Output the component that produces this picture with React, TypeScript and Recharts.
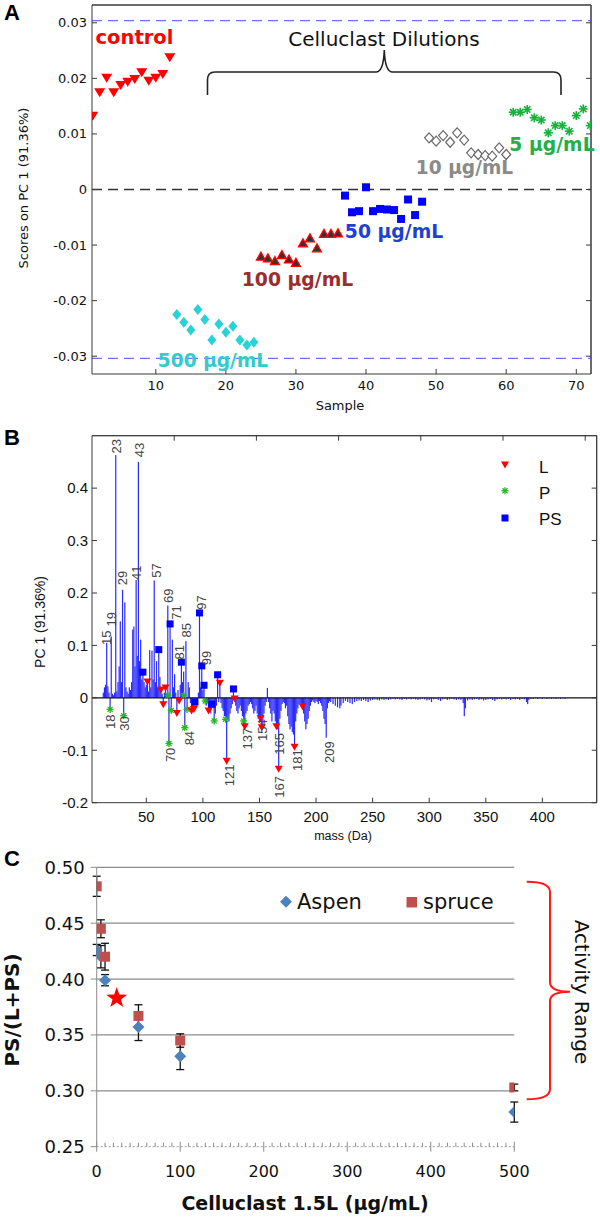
import React from 'react';
import {
  ScatterChart, ComposedChart, Scatter, Bar, XAxis, YAxis, ReferenceLine, ErrorBar, CartesianGrid,
} from 'recharts';

const SANS = '"DejaVu Sans", sans-serif';
const ARIAL = '"Liberation Sans", Arial, sans-serif';

// ---------------- Panel A: PCA scores ----------------
const aXTicks = [10, 20, 30, 40, 50, 60, 70];
const aYTicks = [-0.03, -0.02, -0.01, 0, 0.01, 0.02, 0.03];
const aXDomain = [0.9, 72.1];
const aYDomain = [-0.0332, 0.0332];
const controlSamples = [1, 2, 3, 4, 5, 6, 7, 8, 9, 10, 11, 12];
const controlScores = [0.0132, 0.0174, 0.0200, 0.0174, 0.0187, 0.0193, 0.0198, 0.0210, 0.0195, 0.0200, 0.0207, 0.0237];
const d500Samples = [13, 14, 15, 16, 17, 18, 19, 20, 21, 22, 23, 24];
const d500Scores = [-0.0225, -0.0239, -0.0253, -0.0216, -0.0234, -0.0271, -0.0242, -0.0257, -0.0246, -0.0271, -0.0280, -0.0275];
const d100Samples = [25, 26, 27, 28, 29, 30, 31, 32, 33, 34, 35, 36];
const d100Scores = [-0.0120, -0.0123, -0.0128, -0.0117, -0.0125, -0.0131, -0.0096, -0.0087, -0.0105, -0.0079, -0.0079, -0.0078];
const d50Samples = [37, 38, 39, 40, 41, 42, 43, 44, 45, 46, 47, 48];
const d50Scores = [-0.0011, -0.0041, -0.0039, 0.0004, -0.0039, -0.0035, -0.0036, -0.0037, -0.0053, -0.0018, -0.0046, -0.0022];
const d10Samples = [49, 50, 51, 52, 53, 54, 55, 56, 57, 58, 59, 60];
const d10Scores = [0.0093, 0.0087, 0.0097, 0.0085, 0.0102, 0.0089, 0.0066, 0.0063, 0.0061, 0.0060, 0.0075, 0.0063];
const d5Samples = [61, 62, 63, 64, 65, 66, 67, 68, 69, 70, 71, 72];
const d5Scores = [0.0139, 0.0139, 0.0144, 0.0129, 0.0125, 0.0102, 0.0115, 0.0115, 0.0105, 0.0133, 0.0145, 0.0115];
const aLimits = [-0.0304, 0.0304];

// ---------------- Panel B: PC1 loadings ----------------
const bXTicks = [50, 100, 150, 200, 250, 300, 350, 400];
const bYTicks = [-0.2, -0.1, 0, 0.1, 0.2, 0.3, 0.4];
const bXDomain = [2, 448];
const bYDomain = [-0.2, 0.5];
const stems: [number, number][] = [
  [12, 0.010], [13, 0.020], [14, 0.025], [15, 0.105], [16, 0.022], [17, 0.010], [18, -0.022], [19, 0.117],
  [20, 0.008], [21, 0.005], [22, 0.010], [23, 0.463], [24, 0.012], [25, 0.030], [26, 0.060], [27, 0.146],
  [28, 0.030], [29, 0.206], [30, -0.034], [31, 0.182], [32, 0.020], [33, 0.012], [34, 0.008], [35, 0.020],
  [36, 0.015], [37, 0.030], [38, 0.130], [39, 0.136], [40, 0.060], [41, 0.225], [42, 0.080], [43, 0.450],
  [44, 0.070], [45, 0.111], [46, 0.035], [47, 0.049], [48, 0.030], [49, 0.020], [50, 0.025], [51, 0.030],
  [52, 0.012], [53, 0.091], [54, 0.020], [55, 0.090], [56, 0.035], [57, 0.224], [58, 0.030], [59, 0.070],
  [60, 0.020], [61, 0.092], [62, 0.040], [63, 0.015], [64, 0.008], [65, -0.013], [66, 0.010], [67, 0.019],
  [68, 0.008], [69, 0.176], [70, -0.087], [71, 0.141], [72, -0.024], [73, 0.111], [74, 0.020], [75, 0.045],
  [76, 0.010], [77, -0.030], [78, 0.015], [79, -0.006], [80, 0.025], [81, 0.068], [82, 0.030], [83, 0.050],
  [84, -0.057], [85, 0.108], [86, -0.022], [87, 0.030], [88, 0.020], [89, -0.010], [90, -0.025], [91, -0.015],
  [92, -0.022], [93, -0.008], [94, -0.018], [95, -0.012], [96, 0.010], [97, 0.162], [98, 0.020], [99, 0.061],
  [100, 0.015], [101, 0.024], [102, -0.006], [103, -0.015], [104, -0.010], [105, -0.025], [106, -0.020], [107, -0.030],
  [108, -0.012], [109, -0.020], [110, -0.044], [111, -0.030], [112, -0.015], [113, 0.044], [114, -0.008], [115, 0.028],
  [116, -0.010], [117, -0.020], [118, -0.025], [119, -0.035], [120, -0.041], [121, -0.121], [122, -0.040], [123, -0.045],
  [124, -0.030], [125, -0.020], [126, -0.012], [127, 0.017], [128, -0.002], [129, -0.015], [130, -0.025], [131, -0.030],
  [132, -0.020], [133, -0.015], [134, -0.025], [135, -0.035], [136, -0.044], [137, -0.055], [138, -0.030], [139, -0.025],
  [140, -0.015], [141, -0.012], [142, -0.008], [143, -0.012], [144, -0.020], [145, -0.030], [146, -0.025], [147, -0.015],
  [148, -0.030], [149, -0.040], [150, -0.045], [151, -0.040], [152, -0.057], [153, -0.050], [154, -0.030], [155, -0.015],
  [156, -0.008], [157, 0.019], [158, -0.008], [159, -0.020], [160, -0.030], [161, -0.045], [162, -0.025], [163, -0.030],
  [164, -0.045], [165, -0.055], [166, -0.060], [167, -0.136], [168, -0.040], [169, -0.025], [170, -0.012], [171, -0.008],
  [172, -0.010], [173, -0.020], [174, -0.015], [175, -0.035], [176, -0.050], [177, -0.060], [178, -0.055], [179, -0.065],
  [180, -0.070], [181, -0.094], [182, -0.045], [183, -0.030], [184, -0.020], [185, -0.012], [186, -0.010], [187, -0.015],
  [188, -0.017], [189, -0.030], [190, -0.045], [191, -0.060], [192, -0.050], [193, -0.040], [194, -0.025], [195, -0.015],
  [196, -0.008], [197, -0.005], [198, -0.008], [199, -0.010], [200, -0.006], [201, -0.008], [202, -0.012], [203, -0.006],
  [204, -0.010], [205, -0.015], [206, -0.025], [207, -0.040], [208, -0.050], [209, -0.076], [210, -0.020], [211, -0.010],
  [212, -0.006], [213, -0.008], [215, -0.012], [217, -0.015], [219, -0.018], [221, -0.020], [222, -0.015], [224, -0.010],
  [226, -0.006], [228, -0.008], [230, -0.010], [232, -0.012], [234, -0.008], [236, -0.006], [238, -0.005], [240, -0.006],
  [242, -0.004], [244, -0.006], [246, -0.008], [248, -0.005], [250, -0.004], [252, -0.003], [254, -0.004], [256, -0.005],
  [258, -0.003], [260, -0.004], [262, -0.003], [264, -0.004], [266, -0.003], [268, -0.002], [270, -0.003], [272, -0.002],
  [274, -0.003], [276, -0.004], [278, -0.002], [280, -0.003], [282, -0.002], [284, -0.003], [286, -0.002], [288, -0.003],
  [290, -0.004], [292, -0.003], [294, -0.002], [296, -0.003], [298, -0.005], [300, -0.004], [302, -0.008], [304, -0.003],
  [306, -0.002], [308, -0.004], [310, -0.006], [312, -0.003], [314, -0.002], [316, -0.004], [318, -0.003], [320, -0.002],
  [322, -0.003], [324, -0.004], [326, -0.003], [328, -0.004], [330, -0.010], [331, -0.035], [332, -0.020], [334, -0.005],
  [336, -0.003], [338, -0.004], [340, -0.003], [342, -0.002], [344, -0.004], [346, -0.003], [348, -0.005], [350, -0.004],
  [352, -0.003], [354, -0.002], [356, -0.004], [358, -0.006], [360, -0.003], [362, -0.002], [364, -0.003], [366, -0.002],
  [368, -0.003], [370, -0.002], [372, -0.004], [374, -0.002], [376, -0.003], [378, -0.002], [380, -0.004], [382, -0.002],
  [384, -0.003], [386, -0.008], [387, -0.012], [388, -0.004], [390, -0.002], [392, -0.002], [394, -0.001], [396, -0.002],
  [398, -0.001], [400, -0.002], [402, -0.001], [404, -0.002], [406, -0.001], [408, -0.002], [410, -0.001], [412, -0.002],
  [414, -0.001], [416, -0.002], [418, -0.001], [420, -0.002],
];
const lMarkers: [number, number][] = [
  [51, 0.030], [63, 0.015], [65, -0.013], [67, 0.019], [77, -0.030], [79, -0.006], [90, -0.025], [92, -0.022],
  [105, -0.025], [115, 0.028], [121, -0.121], [128, -0.002], [137, -0.055], [151, -0.040], [152, -0.057],
  [165, -0.055], [167, -0.136], [181, -0.094], [188, -0.017],
];
const pMarkers: [number, number][] = [
  [18, -0.022], [30, -0.034], [69, 0.005], [70, -0.087], [72, -0.024], [83, 0.005], [84, -0.057], [86, -0.022],
  [102, -0.006], [110, -0.044], [120, -0.041], [136, -0.044],
];
const psMarkers: [number, number][] = [
  [47, 0.049], [61, 0.092], [71, 0.141], [81, 0.068], [93, -0.008], [97, 0.162], [99, 0.061], [101, 0.024],
  [108, -0.012], [113, 0.044], [127, 0.017],
];
const upLabels: [string, number, number][] = [
  ['15', 15.0, 0.101], ['19', 19.6, 0.136], ['23', 23.6, 0.466], ['29', 29.0, 0.215], ['41', 41.2, 0.225],
  ['43', 44.0, 0.459], ['57', 58.8, 0.229], ['69', 69.8, 0.181], ['71', 77.0, 0.149], ['81', 79.5, 0.073],
  ['85', 85.3, 0.115], ['97', 98.7, 0.168], ['99', 103.5, 0.062],
];
const downLabels: [string, number, number][] = [
  ['18', 18.3, -0.032], ['30', 30.7, -0.035], ['70', 71.4, -0.095], ['84', 88.2, -0.063], ['121', 123.6, -0.127],
  ['137', 139.8, -0.057], ['154', 153.1, -0.041], ['165', 167.3, -0.067], ['167', 167.9, -0.149],
  ['181', 183.5, -0.098], ['209', 212.1, -0.083],
];

// ---------------- Panel C: PS/(L+PS) ----------------
const cXTicks = [0, 10, 20, 30, 40, 50, 60, 70, 80, 90, 100, 110, 120, 130, 140, 150, 160, 170, 180, 190, 200,
  210, 220, 230, 240, 250, 260, 270, 280, 290, 300, 310, 320, 330, 340, 350, 360, 370, 380, 390, 400,
  410, 420, 430, 440, 450, 460, 470, 480, 490, 500];
const cYTicks = [0.25, 0.30, 0.35, 0.40, 0.45, 0.50];
const cGrid = [0.30, 0.35, 0.40, 0.45, 0.50];
const aspenConc = [0, 5, 10, 50, 100, 500];
const aspenRatio = [0.426, 0.420, 0.399, 0.357, 0.331, 0.281];
const aspenErr = [0.005, 0.010, 0.005, 0.012, 0.012, 0.009];
const spruceConc = [0, 5, 10, 50, 100, 500];
const spruceRatio = [0.483, 0.445, 0.420, 0.367, 0.345, 0.303];
const spruceErr = [0.009, 0.008, 0.012, 0.010, 0.006, 0.003];
const starPoint = [{ conc: 24, ratio: 0.383 }];

// ---------------- data objects ----------------
const grp = (s: number[], v: number[]) => s.map((x, i) => ({ sample: x, score: v[i] }));
const controlData = grp(controlSamples, controlScores);
const d500Data = grp(d500Samples, d500Scores);
const d100Data = grp(d100Samples, d100Scores);
const d50Data = grp(d50Samples, d50Scores);
const d10Data = grp(d10Samples, d10Scores);
const d5Data = grp(d5Samples, d5Scores);
const stemData = stems.map(([m, v]) => ({ mass: m, value: v }));
const mk = (a: [number, number][]) => a.map(([m, v]) => ({ mass: m, value: v }));
const lbl = (a: [string, number, number][]) => a.map(([t, m, v]) => ({ text: t, mass: m, value: v }));
const aspenData = aspenConc.map((c, i) => ({ conc: c, ratio: aspenRatio[i], err: aspenErr[i] }));
const spruceData = spruceConc.map((c, i) => ({ conc: c, ratio: spruceRatio[i], err: spruceErr[i] }));

// ---------------- shapes ----------------
const triDown = (w: number, h: number, fill: string, stroke = 'none') => (p: any) =>
  p.cx == null ? <g /> : <polygon points={`${p.cx - w / 2},${p.cy - h / 2} ${p.cx + w / 2},${p.cy - h / 2} ${p.cx},${p.cy + h / 2}`} fill={fill} stroke={stroke} />;
const triUp = (w: number, h: number, fill: string, stroke = 'none', sw = 1) => (p: any) =>
  p.cx == null ? <g /> : <polygon points={`${p.cx - w / 2},${p.cy + h / 2} ${p.cx + w / 2},${p.cy + h / 2} ${p.cx},${p.cy - h / 2}`} fill={fill} stroke={stroke} strokeWidth={sw} />;
const diamond = (w: number, h: number, fill: string, stroke = 'none', sw = 1) => (p: any) =>
  p.cx == null ? <g /> : <polygon points={`${p.cx},${p.cy - h / 2} ${p.cx + w / 2},${p.cy} ${p.cx},${p.cy + h / 2} ${p.cx - w / 2},${p.cy}`} fill={fill} stroke={stroke} strokeWidth={sw} />;
const square = (s: number, fill: string) => (p: any) =>
  p.cx == null ? <g /> : <rect x={p.cx - s / 2} y={p.cy - s / 2} width={s} height={s} fill={fill} />;
const asterisk = (r: number, color: string, sw: number) => (p: any) => {
  if (p.cx == null) return <g />;
  const d = r * 0.707;
  return (
    <g stroke={color} strokeWidth={sw}>
      <line x1={p.cx - r} y1={p.cy} x2={p.cx + r} y2={p.cy} />
      <line x1={p.cx} y1={p.cy - r} x2={p.cx} y2={p.cy + r} />
      <line x1={p.cx - d} y1={p.cy - d} x2={p.cx + d} y2={p.cy + d} />
      <line x1={p.cx - d} y1={p.cy + d} x2={p.cx + d} y2={p.cy - d} />
    </g>
  );
};
const starShape = (R: number, fill: string) => (p: any) => {
  if (p.cx == null) return <g />;
  const pts: string[] = [];
  for (let i = 0; i < 10; i++) {
    const r = i % 2 === 0 ? R : R * 0.4;
    const a = -Math.PI / 2 + (i * Math.PI) / 5;
    pts.push(`${p.cx + r * Math.cos(a)},${p.cy + r * Math.sin(a)}`);
  }
  return <polygon points={pts.join(' ')} fill={fill} />;
};
const stemShape = (p: any) => {
  if (p.x == null || p.height == null) return <g />;
  const y0 = Math.min(p.y, p.y + p.height);
  const h = Math.max(Math.abs(p.height), 0.5);
  const cx = p.x + p.width / 2;
  return <rect x={cx - 0.6} y={y0} width={1.2} height={h} fill="#2a2aff" />;
};
const labelUp = (p: any) => {
  if (p.cx == null) return <g />;
  const x = p.cx + 4.5, y = p.cy;
  return <text x={x} y={y} transform={`rotate(-90 ${x} ${y})`} textAnchor="start" fontSize={13} fontFamily={ARIAL} fill="#444">{p.payload.text}</text>;
};
const labelDown = (p: any) => {
  if (p.cx == null) return <g />;
  const x = p.cx + 4.5, y = p.cy;
  return <text x={x} y={y} transform={`rotate(-90 ${x} ${y})`} textAnchor="end" fontSize={13} fontFamily={ARIAL} fill="#444">{p.payload.text}</text>;
};

// ---------------- ticks ----------------
const FRAME = '#3a3a3a';
const leftTick = (fs: number, family: string, gap: number, fmt: (v: number) => string, color = FRAME, len = 5) => (p: any) => (
  <g>
    <line x1={p.x} y1={p.y} x2={p.x + len} y2={p.y} stroke={color} />
    <text x={p.x - gap} y={p.y} dy="0.35em" textAnchor="end" fontSize={fs} fontFamily={family} fill="#111">{fmt(p.payload.value)}</text>
  </g>
);
const rightTick = (p: any) => <line x1={p.x - 5} y1={p.y} x2={p.x} y2={p.y} stroke={FRAME} />;
const topTick = (p: any) => <line x1={p.x} y1={p.y} x2={p.x} y2={p.y + 5} stroke={FRAME} />;
const bottomTick = (fs: number, family: string, dy: number) => (p: any) => (
  <g>
    <line x1={p.x} y1={p.y} x2={p.x} y2={p.y - 5} stroke={FRAME} />
    <text x={p.x} y={p.y + dy} textAnchor="middle" fontSize={fs} fontFamily={family} fill="#111">{p.payload.value}</text>
  </g>
);
const cLeftTick = (p: any) => (
  <g>
    <line x1={p.x - 6} y1={p.y} x2={p.x} y2={p.y} stroke="#8c8c8c" />
    <text x={p.x - 12} y={p.y} dy="0.36em" textAnchor="end" fontSize={18} fontFamily={SANS} fill="#111">{Number(p.payload.value).toFixed(2)}</text>
  </g>
);
const cBottomTick = (p: any) => {
  const v = p.payload.value;
  const major = v % 100 === 0;
  return (
    <g>
      <line x1={p.x} y1={major ? p.y + 5 : p.y} x2={p.x} y2={p.y - (major ? 5 : 4)} stroke="#8c8c8c" />
      {major && <text x={p.x} y={p.y + 30} textAnchor="middle" fontSize={16} fontFamily={SANS} fill="#111">{v}</text>}
    </g>
  );
};

const fmtPlain = (v: number) => String(v);

export default function App() {
  return (
    <div style={{ position: 'absolute', left: 0, top: 0, width: 600, height: 1218, background: '#fff', overflow: 'hidden' }}>
      {/* Panel A */}
      <div style={{ position: 'absolute', left: 0, top: 0 }}>
        <ScatterChart width={600} height={420} margin={{ top: 4, right: 8, bottom: 16, left: 0 }}>
          <XAxis type="number" dataKey="sample" domain={aXDomain} ticks={aXTicks} allowDataOverflow interval={0}
            tickSize={0} tickMargin={0} tickLine={false} height={30} axisLine={{ stroke: FRAME }} tick={bottomTick(13, SANS, 16)} />
          <XAxis xAxisId="t" orientation="top" type="number" domain={aXDomain} ticks={aXTicks} allowDataOverflow interval={0}
            tickSize={0} tickMargin={0} tickLine={false} height={1} axisLine={{ stroke: FRAME }} tick={topTick} />
          <YAxis type="number" dataKey="score" domain={aYDomain} ticks={aYTicks} allowDataOverflow interval={0}
            tickSize={0} tickMargin={0} tickLine={false} width={92} axisLine={{ stroke: FRAME }} tick={leftTick(13, SANS, 5, fmtPlain)} />
          <YAxis yAxisId="r" orientation="right" type="number" domain={aYDomain} ticks={aYTicks} allowDataOverflow interval={0}
            tickSize={0} tickMargin={0} tickLine={false} width={1} axisLine={{ stroke: FRAME }} tick={rightTick} />
          <ReferenceLine y={aYDomain[1]} stroke={FRAME} />
          <ReferenceLine x={aXDomain[1]} stroke={FRAME} />
          {aLimits.map((v) => (
            <ReferenceLine key={v} y={v} stroke="#6d6dff" strokeWidth={1.3} strokeDasharray="10 6" />
          ))}
          <ReferenceLine y={0} stroke="#333" strokeWidth={1.3} strokeDasharray="10 6" />
          <Scatter data={controlData} shape={triDown(11, 9, '#ff0000')} isAnimationActive={false} />
          <Scatter data={d500Data} shape={diamond(9, 11, '#27d3d6')} isAnimationActive={false} />
          <Scatter data={d100Data} shape={triUp(9, 8, '#333', '#ff0000', 1.3)} isAnimationActive={false} />
          <Scatter data={d50Data} shape={square(8, '#0000ff')} isAnimationActive={false} />
          <Scatter data={d10Data} shape={diamond(9, 10, '#fff', '#6a6a6a', 1.2)} isAnimationActive={false} />
          <Scatter data={d5Data} shape={asterisk(4.5, '#17b03a', 1.6)} isAnimationActive={false} />
        </ScatterChart>
      </div>

      {/* Panel B */}
      <div style={{ position: 'absolute', left: 0, top: 420 }}>
        <ComposedChart width={600} height={410} data={stemData} margin={{ top: 14.7, right: 2.3, bottom: 7.3, left: 0 }}>
          <XAxis type="number" dataKey="mass" domain={bXDomain} ticks={bXTicks} allowDataOverflow interval={0}
            tickSize={0} tickMargin={0} tickLine={false} height={20} axisLine={{ stroke: FRAME }} tick={bottomTick(15, ARIAL, 19)} />
          <XAxis xAxisId="t" orientation="top" type="number" domain={bXDomain} ticks={bXTicks} allowDataOverflow interval={0}
            tickSize={0} tickMargin={0} tickLine={false} height={1} axisLine={{ stroke: FRAME }} tick={topTick} />
          <YAxis type="number" dataKey="value" domain={bYDomain} ticks={bYTicks} allowDataOverflow interval={0}
            tickSize={0} tickMargin={0} tickLine={false} width={92} axisLine={{ stroke: FRAME }} tick={leftTick(15, ARIAL, 4, fmtPlain)} />
          <YAxis yAxisId="r" orientation="right" type="number" domain={bYDomain} ticks={bYTicks} allowDataOverflow interval={0}
            tickSize={0} tickMargin={0} tickLine={false} width={1} axisLine={{ stroke: FRAME }} tick={rightTick} />
          <ReferenceLine y={bYDomain[1]} stroke={FRAME} />
          <ReferenceLine x={bXDomain[1]} stroke={FRAME} />
          <Bar dataKey="value" barSize={1} fill="#2a2aff" shape={stemShape} isAnimationActive={false} />
          <ReferenceLine y={0} stroke="#111" strokeWidth={1.2} />
          <Scatter data={mk(pMarkers)} dataKey="value" shape={asterisk(3.5, '#22b822', 1.3)} isAnimationActive={false} />
          <Scatter data={mk(lMarkers)} dataKey="value" shape={triDown(8, 7, '#ff0000')} isAnimationActive={false} />
          <Scatter data={mk(psMarkers)} dataKey="value" shape={square(7, '#0000ff')} isAnimationActive={false} />
          <Scatter data={lbl(upLabels)} dataKey="value" shape={labelUp} isAnimationActive={false} />
          <Scatter data={lbl(downLabels)} dataKey="value" shape={labelDown} isAnimationActive={false} />
        </ComposedChart>
      </div>

      {/* Panel C */}
      <div style={{ position: 'absolute', left: 0, top: 820 }}>
        <ScatterChart width={600} height={398} margin={{ top: 47.3, right: 85.7, bottom: 31.3, left: 0 }}>
          <CartesianGrid vertical={false} horizontalValues={cGrid} stroke="#8c8c8c" strokeWidth={1.2} />
          <XAxis type="number" dataKey="conc" domain={[0, 500]} ticks={cXTicks} allowDataOverflow interval={0}
            tickSize={0} tickMargin={0} tickLine={false} height={40} axisLine={{ stroke: '#999', strokeDasharray: '2 2' }} tick={cBottomTick} />
          <YAxis type="number" dataKey="ratio" domain={[0.25, 0.5]} ticks={cYTicks} allowDataOverflow interval={0}
            tickSize={0} tickMargin={0} tickLine={false} width={96.7} axisLine={{ stroke: '#8c8c8c' }} tick={cLeftTick} />
          <Scatter data={aspenData} shape={diamond(12, 12, '#4f81bd')} isAnimationActive={false}>
            <ErrorBar dataKey="err" direction="y" width={4} stroke="#111" strokeWidth={1.3} />
          </Scatter>
          <Scatter data={spruceData} shape={square(10, '#c0504d')} isAnimationActive={false}>
            <ErrorBar dataKey="err" direction="y" width={4} stroke="#111" strokeWidth={1.3} />
          </Scatter>
          <Scatter data={starPoint} shape={starShape(11, '#ff0000')} isAnimationActive={false} />
        </ScatterChart>
      </div>

      {/* Annotations */}
      <svg width={600} height={1218} style={{ position: 'absolute', left: 0, top: 0, pointerEvents: 'none' }}>
        {/* panel letters */}
        <text x={4} y={20} fontFamily={ARIAL} fontWeight="bold" fontSize={22} fill="#000">A</text>
        <text x={4} y={445} fontFamily={ARIAL} fontWeight="bold" fontSize={22} fill="#000">B</text>
        <text x={4} y={866} fontFamily={ARIAL} fontWeight="bold" fontSize={22} fill="#000">C</text>

        {/* Panel A */}
        <text x={27.5} y={188} transform="rotate(-90 27.5 188)" textAnchor="middle" fontFamily={SANS} fontSize={13} fill="#111">Scores on PC 1 (91.36%)</text>
        <text x={340} y={410} textAnchor="middle" fontFamily={SANS} fontSize={13} fill="#111">Sample</text>
        <text x={134.5} y={44} textAnchor="middle" fontFamily={SANS} fontWeight="bold" fontSize={19.5} fill="#ff0000">control</text>
        <text x={384} y={45.7} textAnchor="middle" fontFamily={SANS} fontSize={20} fill="#111">Celluclast Dilutions</text>
        <path d="M 207.5 95 L 207.5 80 Q 207.5 72 215 72 L 376 72 Q 383.5 72 384.3 50 Q 385 72 392.5 72 L 553.5 72 Q 561 72 561 80 L 561 95"
          fill="none" stroke="#222" strokeWidth={1.6} />
        <text x={552} y={150.7} textAnchor="middle" fontFamily={SANS} fontWeight="bold" fontSize={18.8} fill="#22b04a">5 µg/mL</text>
        <text x={464.5} y={174} textAnchor="middle" fontFamily={SANS} fontWeight="bold" fontSize={18.6} fill="#8a8a8a">10 µg/mL</text>
        <text x={394} y={238.3} textAnchor="middle" fontFamily={SANS} fontWeight="bold" fontSize={18.8} fill="#1f3fd6">50 µg/mL</text>
        <text x={297.5} y={285.7} textAnchor="middle" fontFamily={SANS} fontWeight="bold" fontSize={18.8} fill="#9b2d2d">100 µg/mL</text>
        <text x={213} y={366.7} textAnchor="middle" fontFamily={SANS} fontWeight="bold" fontSize={18.6} fill="#33cccc">500 µg/mL</text>

        {/* Panel B */}
        <text x={45} y={622} transform="rotate(-90 45 622)" textAnchor="middle" fontFamily={ARIAL} fontSize={14} fill="#111">PC 1 (91.36%)</text>
        <text x={343} y={840} textAnchor="middle" fontFamily={ARIAL} fontSize={12.5} fill="#111">mass (Da)</text>
        <polygon points="501,461.5 509,461.5 505,468.5" fill="#ff0000" />
        <g stroke="#22b822" strokeWidth={1.3}>
          <line x1={501.5} y1={490.7} x2={508.5} y2={490.7} />
          <line x1={505} y1={487.2} x2={505} y2={494.2} />
          <line x1={502.5} y1={488.2} x2={507.5} y2={493.2} />
          <line x1={502.5} y1={493.2} x2={507.5} y2={488.2} />
        </g>
        <rect x={501.5} y={514.5} width={7} height={7} fill="#0000ff" />
        <text x={539} y={473} fontFamily={ARIAL} fontSize={17} fill="#111">L</text>
        <text x={539} y={498.5} fontFamily={ARIAL} fontSize={17} fill="#111">P</text>
        <text x={539} y={525} fontFamily={ARIAL} fontSize={17} fill="#111">PS</text>

        {/* Panel C */}
        <text x={19} y={1010} transform="rotate(-90 19 1010)" textAnchor="middle" fontFamily={SANS} fontWeight="bold" fontSize={20} fill="#111">PS/(L+PS)</text>
        <text x={305} y={1210} textAnchor="middle" fontFamily={SANS} fontWeight="bold" fontSize={19} fill="#111">Celluclast 1.5L (µg/mL)</text>
        <polygon points="286,895.7 292,901.7 286,907.7 280,901.7" fill="#4f81bd" />
        <text x={297} y={909} fontFamily={SANS} fontSize={21} fill="#111">Aspen</text>
        <rect x={406.5} y={897} width={10.5} height={10.5} fill="#c0504d" />
        <text x={423} y={909} fontFamily={SANS} fontSize={21} fill="#111">spruce</text>
        <path d="M 526.7 881.7 Q 550 881.7 550 892 L 550 982 Q 550 991.7 570 991.7 Q 550 991.7 550 1001 L 550 1089 Q 550 1099.3 526.7 1099.3"
          fill="none" stroke="#ff1a1a" strokeWidth={2} />
        <text x={575} y={992} transform="rotate(90 575 992)" textAnchor="middle" fontFamily={SANS} fontSize={20} fill="#111">Activity Range</text>
      </svg>
    </div>
  );
}
